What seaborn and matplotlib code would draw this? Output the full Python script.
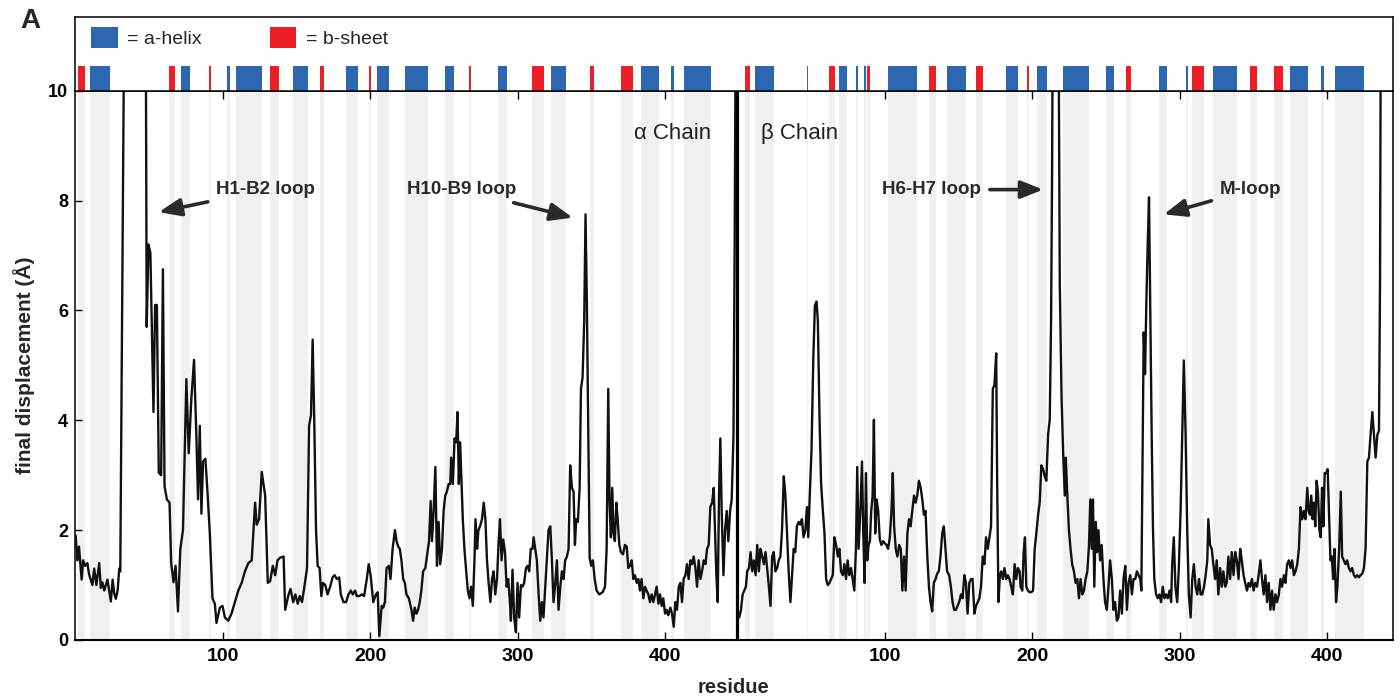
import matplotlib
matplotlib.use("Agg")
import matplotlib.pyplot as plt
import numpy as np
import pandas as pd
import seaborn as sns
from matplotlib.patches import Patch

# ---------------- data ----------------
ALPHA_LEN = 449  # alpha chain length; beta residues are placed after it

alpha_res = [0.5, 1.6, 2.7, 4.5, 5.5, 6.8, 8.4, 9.5, 11.8, 13.0, 14.5, 16.4, 17.5, 18.6, 19.8, 22.0, 24.3, 25.5,
             26.6, 27.7, 28.9, 30.0, 30.7, 33.8, 47.8, 48.6, 49.8, 51.1, 53.2, 54.3, 55.5, 56.8, 58.4, 59.6, 60.7,
             62.3, 64.1, 65.2, 66.8, 68.2, 69.8, 71.4, 73.2, 75.5, 77.1, 78.9, 80.7, 82.3, 83.4, 84.6, 85.7, 86.8,
             88.4, 89.8, 91.4, 93.2, 94.8, 95.9, 98.2, 100.0, 101.6, 103.9, 106.1, 108.4, 110.7, 113.0, 115.2,
             117.5, 119.8, 122.1, 123.2, 124.8, 126.6, 128.9, 130.7, 132.3, 134.1, 135.7, 137.3, 139.1, 141.4,
             142.5, 144.8, 146.1, 147.9, 149.4, 151.0, 152.4, 153.9, 155.5, 157.3, 158.7, 160.0, 161.1, 162.2,
             163.4, 164.5, 165.8, 167.0, 168.1, 169.7, 171.2, 173.0, 174.6, 176.0, 177.5, 179.1, 180.2, 182.0,
             183.8, 185.4, 187.0, 188.3, 189.9, 191.0, 192.8, 194.4, 196.0, 197.8, 199.1, 200.4, 202.2, 204.0,
             205.2, 206.3, 207.9, 209.0, 210.1, 211.2, 212.8, 213.9, 215.3, 216.9, 218.0, 219.1, 220.2, 221.3,
             222.5, 223.6, 224.7, 226.3, 228.1, 229.2, 230.3, 231.5, 232.6, 233.7, 234.8, 236.0, 237.5, 238.6,
             240.0, 241.1, 242.0, 243.1, 244.3, 245.4, 246.5, 247.6, 248.8, 249.9, 251.0, 252.1, 253.3, 254.4,
             255.0, 256.2, 257.3, 258.4, 259.3, 260.2, 261.1, 262.0, 262.9, 264.0, 265.2, 266.3, 267.4, 268.5,
             269.7, 270.8, 271.5, 272.6, 273.5, 274.6, 275.9, 277.1, 278.2, 279.3, 280.4, 281.6, 282.7, 283.8,
             284.9, 286.1, 287.2, 288.1, 289.2, 290.3, 291.5, 292.6, 293.7, 294.8, 295.5, 296.6, 297.7, 298.9,
             300.0, 301.1, 302.3, 303.4, 304.5, 305.7, 306.8, 307.9, 309.0, 310.2, 310.9, 312.0, 313.1, 314.3,
             315.4, 316.5, 317.6, 318.8, 319.9, 321.0, 322.2, 323.3, 324.4, 325.6, 326.7, 327.8, 329.0, 330.1,
             331.2, 332.3, 333.5, 334.6, 335.7, 336.9, 338.0, 338.9, 339.8, 340.9, 342.1, 343.0, 344.1, 345.2,
             346.1, 347.0, 348.0, 348.9, 350.0, 351.1, 352.3, 353.6, 355.4, 357.7, 359.3, 360.4, 361.5, 362.4,
             363.3, 364.2, 365.1, 366.0, 367.0, 367.9, 369.0, 370.1, 371.5, 372.8, 374.0, 375.1, 376.2, 377.4,
             378.5, 379.6, 380.8, 381.9, 383.0, 384.1, 385.3, 386.4, 387.5, 388.7, 389.8, 390.9, 392.1, 393.2,
             394.3, 395.5, 396.6, 397.7, 398.8, 400.0, 401.1, 402.2, 403.6, 404.7, 405.9, 407.0, 408.1, 409.3,
             410.4, 411.5, 412.6, 413.8, 414.9, 416.0, 417.2, 418.3, 419.4, 420.6, 421.7, 422.8, 424.0, 425.1,
             426.2, 427.4, 428.5, 429.6, 430.7, 431.9, 433.0, 433.9, 434.8, 435.7, 436.6, 437.5, 438.4, 439.6,
             440.7, 441.8, 442.9, 444.1, 445.2, 446.4, 447.2, 448.2]
alpha_disp = [1.9, 1.45, 1.7, 1.1, 1.45, 1.35, 1.4, 1.2, 1.0, 1.3, 1.0, 1.4, 0.95, 1.05, 0.9, 1.1, 0.7, 1.1,
              0.85, 0.75, 0.9, 1.3, 1.25, 13.0, 13.0, 5.7, 7.2, 7.05, 4.15, 6.1, 6.1, 3.05, 3.0, 6.75, 2.8,
              2.56, 2.5, 1.4, 1.05, 1.35, 0.52, 1.66, 2.0, 4.75, 3.4, 4.4, 5.1, 3.7, 2.56, 3.9, 2.3, 3.25,
              3.3, 2.7, 1.94, 0.76, 0.66, 0.31, 0.59, 0.62, 0.41, 0.35, 0.48, 0.69, 0.9, 1.04, 1.25,
              1.4, 1.45, 2.5, 2.1, 2.2, 3.06, 2.63, 1.04, 1.07, 1.35, 1.18, 1.45, 1.5, 1.52,
              0.55, 0.83, 0.93, 0.69, 0.83, 0.66, 0.8, 0.69, 0.97, 1.31, 3.9, 4.1, 5.47, 4.0,
              2.0, 1.35, 1.31, 0.8, 1.04, 1.0, 0.83, 0.97, 1.14, 1.18, 1.11, 1.14, 0.83, 0.69,
              0.69, 0.83, 0.9, 0.83, 0.9, 0.8, 0.8, 0.83, 0.8, 1.11, 1.38, 1.18, 0.69, 0.83,
              0.87, 0.07, 0.62, 0.59, 0.69, 1.31, 1.35, 1.11, 1.66, 2.0, 1.8, 1.7, 1.66, 1.45,
              1.11, 1.04, 0.83, 0.76, 0.55, 0.35, 0.59, 0.48, 0.55, 0.69, 0.9, 1.25, 1.31, 1.52,
              1.8, 2.53, 1.8, 2.35, 3.15, 1.35, 2.15, 1.38, 1.66, 2.35, 2.63, 2.7, 2.84, 2.84,
              3.32, 2.84, 3.67, 3.6, 4.15, 2.84, 3.6, 2.9, 2.2, 1.66, 1.25, 0.9, 0.76, 0.97,
              0.62, 1.45, 2.2, 1.66, 2.0, 2.07, 2.2, 2.5, 2.2, 1.45, 1.04, 0.69, 1.11, 1.25,
              0.83, 1.11, 1.8, 2.2, 1.45, 1.83, 1.6, 0.97, 1.11, 0.69, 0.35, 1.28, 0.41, 0.14,
              1.04, 0.41, 1.0, 0.97, 1.04, 1.31, 1.35, 1.25, 1.66, 1.66, 1.87, 1.66, 1.45, 0.83,
              0.35, 0.69, 0.41, 0.97, 1.45, 2.0, 2.07, 1.45, 0.69, 1.04, 1.45, 0.55, 0.97, 1.25,
              1.11, 1.45, 1.52, 1.66, 3.18, 2.77, 2.7, 1.73, 2.2, 2.15, 2.77, 4.57, 4.78, 5.81,
              7.75, 6.16, 3.74, 1.49, 1.35, 1.45, 1.11, 0.9, 0.83, 0.87, 0.97, 1.66, 4.57, 2.5,
              1.87, 2.77, 1.94, 1.8, 2.5, 2.2, 1.73, 1.6, 1.56, 1.73, 1.7, 1.31, 1.35, 1.45,
              1.11, 1.18, 1.04, 1.11, 0.9, 1.11, 0.76, 0.97, 0.9, 0.83, 0.69, 0.83, 0.69, 0.83,
              0.97, 0.66, 0.83, 0.62, 0.76, 0.48, 0.55, 0.45, 0.59, 0.48, 0.24, 0.69, 0.55, 0.97,
              1.04, 0.69, 1.11, 1.18, 1.38, 1.11, 1.45, 1.38, 1.52, 1.31, 0.97, 1.45, 1.11, 1.25,
              1.45, 1.38, 1.66, 1.73, 2.42, 2.5, 2.77, 2.0, 1.18, 0.69, 2.63, 3.67, 2.35, 1.18,
              2.0, 2.35, 1.8, 2.35, 2.56, 3.74, 7.2, 13.0]

beta_res = [1.3, 2.5, 3.6, 4.7, 5.8, 6.7, 7.9, 9.0, 10.1, 11.2, 12.4, 13.5, 14.6, 15.7, 16.9, 18.0, 19.1, 20.2,
            21.3, 22.5, 23.6, 24.7, 25.8, 27.0, 28.1, 29.2, 30.3, 31.5, 32.6, 33.7, 34.8, 36.0, 37.1, 38.2,
            39.3, 40.4, 41.6, 42.7, 43.8, 44.9, 46.1, 47.2, 48.1, 49.2, 50.3, 51.5, 52.6, 53.7, 54.6, 55.7,
            56.8, 58.0, 59.1, 60.2, 61.3, 62.5, 63.6, 64.7, 65.8, 67.0, 68.1, 69.2, 70.3, 71.5, 72.6, 73.7,
            74.8, 75.9, 77.1, 78.2, 79.3, 80.4, 81.3, 82.2, 83.4, 84.5, 85.4, 86.3, 87.2, 88.1, 89.0, 89.9,
            90.8, 91.7, 92.6, 93.5, 94.4, 95.5, 96.6, 97.7, 98.9, 100.0, 101.1, 102.2, 103.4, 104.5, 105.4,
            106.3, 107.4, 108.5, 109.7, 110.8, 111.9, 113.0, 114.1, 115.3, 116.4, 117.5, 118.6, 119.8, 120.9,
            122.0, 123.1, 124.3, 125.4, 126.5, 127.6, 128.8, 129.9, 131.0, 132.1, 133.2, 134.4, 135.5, 136.6,
            137.7, 138.9, 140.0, 141.1, 142.2, 143.6, 144.8, 145.9, 147.0, 148.2, 149.3, 150.4, 151.6, 152.7,
            153.9, 155.0, 156.1, 157.3, 158.4, 159.5, 160.7, 161.8, 163.0, 164.1, 165.2, 166.4, 167.5, 168.6,
            169.8, 170.9, 172.0, 173.2, 174.3, 175.5, 176.1, 177.0, 178.0, 178.9, 180.0, 181.1, 182.3, 183.4,
            184.5, 185.7, 186.8, 188.0, 189.1, 190.2, 191.4, 192.0, 193.2, 194.1, 195.0, 195.9, 197.0, 198.2,
            199.3, 200.5, 201.6, 202.7, 203.9, 205.0, 206.1, 207.3, 208.4, 209.5, 210.7, 211.8, 212.7, 213.4,
            214.1, 217.5, 218.6, 219.8, 220.9, 222.0, 222.7, 223.6, 224.8, 225.9, 227.0, 228.2, 229.3, 230.5,
            231.6, 232.7, 233.9, 235.0, 236.1, 237.3, 238.4, 239.3, 240.2, 241.1, 242.0, 243.0, 243.9, 244.8,
            245.9, 247.0, 248.2, 249.3, 250.5, 251.6, 252.7, 253.9, 255.0, 256.1, 257.3, 258.4, 259.5, 260.7,
            261.8, 263.0, 264.1, 265.2, 266.4, 267.5, 268.6, 269.8, 270.9, 272.0, 273.2, 273.9, 274.6, 275.5,
            276.4, 277.3, 278.2, 279.1, 280.0, 280.9, 281.8, 282.7, 283.9, 285.0, 286.1, 287.3, 288.4, 289.6,
            290.7, 291.8, 293.0, 294.1, 294.8, 295.9, 297.0, 298.2, 299.3, 300.5, 301.6, 302.7, 303.9, 305.0,
            306.1, 307.3, 308.4, 309.5, 310.7, 311.8, 313.0, 314.1, 315.2, 316.4, 317.5, 318.6, 319.3, 320.5,
            321.6, 322.7, 323.9, 325.0, 326.1, 327.3, 328.4, 329.5, 330.7, 331.8, 332.9, 334.1, 335.2, 336.4,
            337.5, 338.6, 339.8, 340.9, 342.0, 343.2, 344.3, 345.5, 346.6, 347.7, 348.9, 350.0, 351.1, 352.3,
            353.4, 354.6, 355.7, 356.8, 358.0, 359.1, 360.2, 361.4, 362.5, 363.6, 364.8, 365.9, 367.1, 368.2,
            369.3, 370.5, 371.6, 372.7, 373.9, 375.0, 376.1, 377.3, 378.4, 379.6, 380.7, 381.8, 383.0, 384.1,
            385.2, 386.4, 387.3, 388.2, 389.1, 390.0, 390.9, 391.8, 392.7, 393.6, 394.6, 395.5, 396.4, 397.3,
            398.2, 399.3, 400.2, 401.1, 402.1, 403.0, 403.9, 404.8, 405.9, 406.8, 408.0, 409.1, 410.0, 411.1,
            412.3, 413.4, 414.6, 415.7, 416.8, 418.0, 419.1, 420.2, 421.4, 422.5, 423.7, 424.8, 425.9, 427.1,
            428.2, 429.3, 430.5, 431.6, 432.7, 433.9, 435.0, 435.7, 436.4, 444.0]
beta_disp = [0.41, 0.55, 0.83, 0.9, 0.97, 1.25, 1.31, 1.6, 1.25, 1.45, 1.18, 1.73, 1.25, 1.66, 1.52, 1.38, 1.6, 1.31,
             1.0, 0.62, 1.52, 1.6, 1.25, 1.31, 1.45, 1.52, 2.0, 2.98, 2.63, 1.94, 1.25, 0.69, 1.18, 1.66,
             1.6, 2.07, 2.15, 2.1, 2.2, 1.87, 2.0, 2.42, 1.87, 2.7, 3.46, 5.12, 6.09, 6.16, 5.81, 4.08,
             2.84, 2.35, 1.94, 1.11, 1.0, 1.04, 1.11, 1.18, 1.87, 1.73, 1.52, 1.66, 1.25, 1.18, 1.38, 1.11,
             1.45, 1.18, 1.31, 1.11, 0.9, 1.66, 3.15, 1.66, 2.35, 3.25, 1.94, 1.04, 3.04, 1.45, 1.73, 1.8,
             2.35, 2.63, 4.01, 1.94, 2.56, 2.35, 1.83, 1.73, 1.8, 1.76, 1.73, 1.66, 1.87, 2.35, 3.04,
             2.07, 1.66, 1.52, 1.73, 1.66, 0.9, 1.52, 0.9, 1.94, 2.2, 2.07, 2.35, 2.63, 2.5,
             2.63, 2.9, 2.77, 2.56, 2.28, 2.35, 1.52, 0.97, 0.69, 0.52, 1.04, 1.11, 1.21, 1.25,
             1.52, 1.94, 2.07, 1.66, 1.25, 1.18, 0.97, 0.69, 0.55, 0.55, 0.62, 0.69, 0.83, 0.76,
             1.18, 1.04, 0.48, 1.04, 1.11, 1.11, 0.48, 0.62, 0.69, 0.76, 0.97, 1.52, 1.38, 1.87,
             1.66, 1.87, 2.07, 4.57, 4.64, 5.22, 3.04, 0.69, 1.18, 1.25, 1.11, 1.31, 1.11, 1.18,
             1.11, 0.97, 0.83, 1.38, 1.11, 1.31, 1.25, 0.97, 0.9, 1.6, 1.87, 0.97, 0.9, 0.87,
             0.87, 0.9, 1.66, 1.94, 2.28, 2.5, 3.18, 3.11, 2.98, 2.9, 3.74, 4.01, 5.81, 8.58,
             13.0, 13.0, 6.5, 4.43, 3.39, 2.63, 3.32, 2.7, 2.0, 1.66, 1.38, 1.25, 1.04, 1.11,
             0.76, 1.11, 0.83, 0.9, 1.11, 1.25, 1.73, 2.56, 1.66, 2.56, 0.97, 2.15, 1.6, 2.0,
             1.45, 1.73, 1.11, 0.69, 0.55, 0.97, 1.45, 1.11, 0.55, 0.69, 0.35, 0.41, 0.9, 0.48,
             1.11, 1.35, 0.55, 1.04, 1.18, 0.83, 1.11, 1.11, 1.25, 1.18, 1.11, 0.9, 3.04, 5.6,
             4.84, 6.16, 7.2, 8.06, 5.81, 3.74, 2.0, 1.11, 0.83, 0.76, 0.83, 0.69, 0.97, 0.76,
             0.83, 0.76, 0.9, 0.69, 1.38, 1.87, 0.97, 0.69, 1.31, 2.35, 3.74, 5.09, 3.74, 2.0,
             0.83, 0.41, 1.11, 1.38, 0.97, 0.83, 1.11, 0.83, 0.83, 0.97, 1.18, 1.45, 2.2, 1.73,
             1.66, 1.38, 1.11, 1.45, 0.83, 1.31, 0.97, 1.25, 0.97, 1.04, 1.52, 1.11, 1.6, 1.18,
             1.6, 1.45, 1.11, 1.66, 1.45, 1.18, 1.04, 0.9, 1.04, 0.97, 1.11, 0.9, 1.04, 0.97,
             1.18, 1.45, 1.11, 0.83, 1.18, 0.69, 1.04, 0.55, 0.9, 0.55, 0.83, 0.69, 0.83, 1.11,
             0.97, 1.18, 1.04, 1.38, 1.45, 1.31, 1.45, 1.18, 1.25, 1.38, 1.66, 2.42, 2.2, 2.35,
             2.2, 2.77, 2.35, 2.28, 2.63, 2.2, 2.5, 2.07, 2.9, 2.7, 2.0, 1.87, 2.77, 2.07,
             3.04, 3.04, 3.11, 2.35, 1.45, 1.52, 1.11, 1.66, 0.69, 0.97, 1.66, 2.7, 1.52, 1.45,
             1.38, 1.45, 1.31, 1.25, 1.31, 1.18, 1.14, 1.18, 1.14, 1.18, 1.21, 1.31, 1.66, 3.25,
             3.32, 3.74, 4.15, 3.74, 3.32, 3.74, 3.81, 6.5, 13.0, 13.0]

# secondary structure (residue ranges)
alpha_helix_start = [10, 72, 103, 109, 148, 184, 205, 224, 251, 287, 323, 384, 404, 413]
alpha_helix_end = [24, 78, 105, 127, 158, 192, 213, 239, 257, 293, 333, 396, 406, 431]
alpha_sheet_start = [2, 64, 91, 132, 166, 199, 267, 310, 349, 370]
alpha_sheet_end = [7, 68, 92.5, 138, 168.5, 201, 268.5, 318, 352, 378]
beta_helix_start = [12, 47, 69, 80.5, 86, 102, 142, 182, 203, 221, 250, 286, 304.5, 322.5, 375, 396, 405]
beta_helix_end = [25, 48, 74.5, 82, 87.2, 122, 155, 190, 210, 238.6, 255.5, 291, 305.7, 338.6, 387, 397.5, 424.6]
beta_sheet_start = [5, 62, 88, 130, 161.5, 196.4, 263.6, 308.4, 347.7, 363.6]
beta_sheet_end = [8.5, 66, 90, 135, 166.4, 197.7, 267, 316.4, 352.3, 369.8]

tick_values = [100, 200, 300, 400]
y_ticks = [0, 2, 4, 6, 8, 10]

# ---------------- style ----------------
sns.set_theme(style="white")
plt.rcParams['font.family'] = ['Liberation Sans', 'DejaVu Sans']

BLUE = '#2d67b2'
RED = '#ec1f26'
GREY = '#f0f0f0'
LINE = '#111111'
ANN = '#2a2a2a'

df = pd.concat([
    pd.DataFrame({'pos': alpha_res, 'disp': alpha_disp, 'chain': 'alpha'}),
    pd.DataFrame({'pos': [ALPHA_LEN + b for b in beta_res], 'disp': beta_disp, 'chain': 'beta'}),
], ignore_index=True)

fig = plt.figure(figsize=(14, 6.98), dpi=100, facecolor='white')
ax = fig.add_axes([0.05357, 0.0831, 0.94143, 0.7869])
ax_top = fig.add_axes([0.05357, 0.87006, 0.94143, 0.1060], sharex=ax)

XMAX = ALPHA_LEN + 444.5

helix_spans = list(zip(alpha_helix_start, alpha_helix_end)) + \
    [(ALPHA_LEN + s, ALPHA_LEN + e) for s, e in zip(beta_helix_start, beta_helix_end)]
sheet_spans = list(zip(alpha_sheet_start, alpha_sheet_end)) + \
    [(ALPHA_LEN + s, ALPHA_LEN + e) for s, e in zip(beta_sheet_start, beta_sheet_end)]

for s, e in helix_spans + sheet_spans:
    ax.axvspan(s, e, color=GREY, lw=0, zorder=0)

sns.lineplot(data=df, x='pos', y='disp', hue='chain', palette=[LINE, LINE], estimator=None,
             sort=False, legend=False, lw=1.7, ax=ax, zorder=3)

ax.axvline(ALPHA_LEN, color='black', lw=2.3, zorder=4)

ax.set_xlim(0, XMAX)
ax.set_ylim(0, 10)
xt = tick_values + [ALPHA_LEN + t for t in tick_values]
ax.set_xticks(xt)
ax.set_xticklabels([str(t) for t in tick_values] * 2, fontsize=14, fontweight='bold')
ax.set_yticks(y_ticks)
ax.set_yticklabels([str(t) for t in y_ticks], fontsize=13, fontweight='bold')
ax.tick_params(axis='x', direction='in', top=True, bottom=True, length=6, width=1, pad=6, colors='black')
ax.tick_params(axis='y', direction='in', left=True, right=False, length=5, width=1, pad=5, colors='black')
for sp in ax.spines.values():
    sp.set_visible(True)
    sp.set_color('black')
    sp.set_linewidth(1.1)
ax.spines['bottom'].set_linewidth(1.5)

ax.set_xlabel('residue', fontsize=14.5, fontweight='bold')
ax.xaxis.set_label_coords(0.5, -0.086)
ax.xaxis.label.set_va('center')
ax.set_ylabel('final displacement (Å)', fontsize=15, fontweight='bold')
ax.yaxis.set_label_coords(-0.0387, 0.5)
ax.yaxis.label.set_va('center')

# chain labels
ax.text(405.2, 9.22, 'α Chain', fontsize=16, ha='center', va='center', color='#222222')
ax.text(ALPHA_LEN + 42.2, 9.22, 'β Chain', fontsize=16, ha='center', va='center', color='#222222')

# annotations
arrow = dict(arrowstyle='-|>,head_length=0.75,head_width=0.3', color=ANN, lw=2.6,
             mutation_scale=18, shrinkA=4, shrinkB=0)
kw = dict(fontsize=13.5, fontweight='bold', color=ANN, va='center', arrowprops=arrow, zorder=5)
ax.annotate('H1-B2 loop', xy=(56.8, 7.79), xytext=(95.9, 8.2), ha='left', **kw)
ax.annotate('H10-B9 loop', xy=(337.4, 7.69), xytext=(299.0, 8.2), ha='right', **kw)
ax.annotate('H6-H7 loop', xy=(ALPHA_LEN + 207.3, 8.2), xytext=(ALPHA_LEN + 165.2, 8.2), ha='right', **kw)
ax.annotate('M-loop', xy=(ALPHA_LEN + 289.1, 7.75), xytext=(ALPHA_LEN + 327.3, 8.2), ha='left', **kw)

# top secondary-structure strip
for s, e in helix_spans:
    ax_top.axvspan(s, e, ymin=0, ymax=0.33, color=BLUE, lw=0)
for s, e in sheet_spans:
    ax_top.axvspan(s, e, ymin=0, ymax=0.33, color=RED, lw=0)
ax_top.set_ylim(0, 1)
ax_top.tick_params(left=False, bottom=False, top=False, labelbottom=False, labelleft=False)
for sp in ax_top.spines.values():
    sp.set_visible(True)
    sp.set_color('black')
    sp.set_linewidth(1.1)
ax_top.set_facecolor('white')
handles = [Patch(facecolor=BLUE, edgecolor='none', label='= a-helix'),
           Patch(facecolor=RED, edgecolor='none', label='= b-sheet')]
ax_top.legend(handles=handles, loc='upper left', bbox_to_anchor=(0.0125, 0.86), ncol=2, frameon=False,
              fontsize=14, handlelength=1.35, handleheight=1.25, handletextpad=0.5, columnspacing=3.5,
              borderpad=0, borderaxespad=0)

fig.text(20 / 1400, 1 - 8 / 698, 'A', fontsize=20, fontweight='bold', ha='left', va='top')

fig.savefig('out.png', dpi=100, facecolor='white')
